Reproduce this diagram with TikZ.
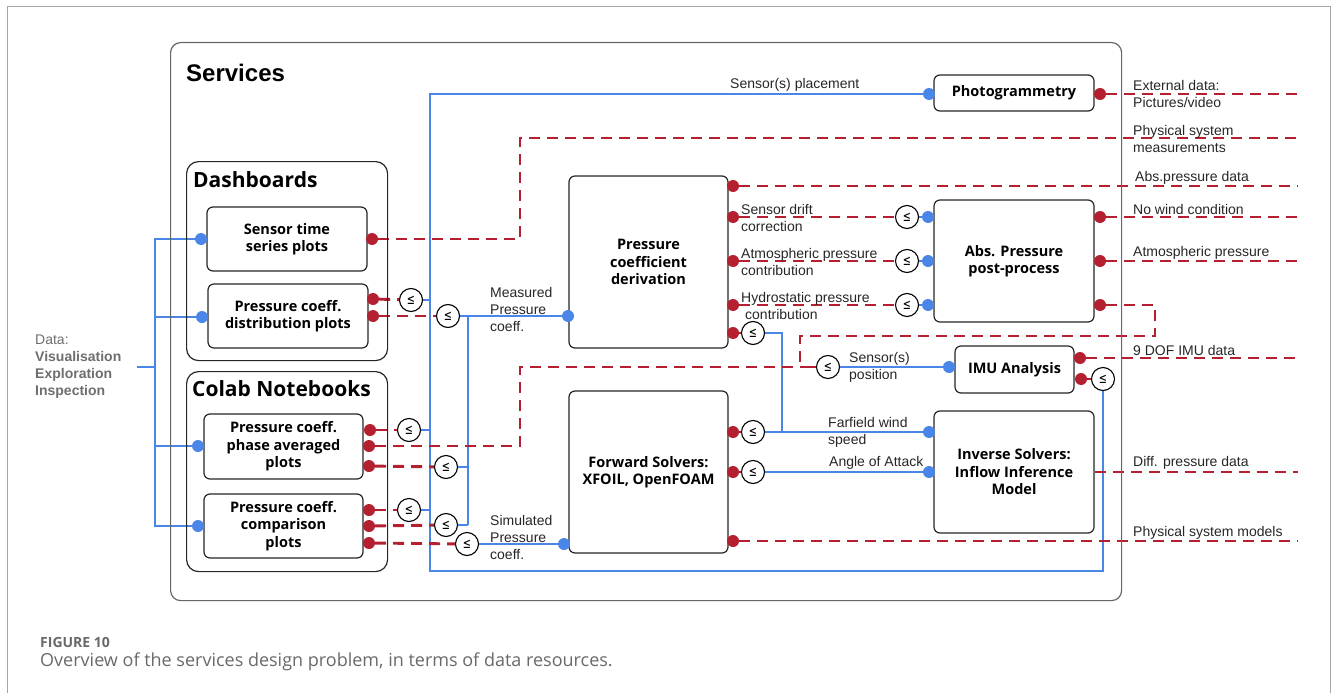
\documentclass[tikz,border=0pt]{standalone}
\usepackage{fontspec}
\setmainfont{Liberation Sans}
\newfontfamily\osans{Open Sans}
\newfontfamily\dejavu{DejaVu Sans}
\usetikzlibrary{backgrounds}
\definecolor{myblue}{RGB}{74,134,232}
\definecolor{myred}{RGB}{180,32,48}
\definecolor{capgray}{RGB}{105,105,105}
\definecolor{datagray}{RGB}{110,110,110}
\newcommand\bxfont{\osans\bfseries\fontsize{14.5}{17.5}\selectfont}
\newcommand\grpfont{\osans\bfseries\fontsize{21}{24}\selectfont}
\newcommand\lbfont{\fontsize{14}{17}\selectfont}

\begin{document}
\begin{tikzpicture}[x=1pt,y=-1pt,
  box/.style={draw=black!85, line width=1.2pt, rounded corners=6pt, fill=white,
    font=\bxfont, align=center, inner sep=2pt},
  grp/.style={draw=black!85, line width=1.2pt, rounded corners=12pt,
    anchor=north west, inner sep=0pt},
  gttl/.style={font=\grpfont, anchor=west, inner sep=0pt},
  bline/.style={draw=myblue, line width=2.7pt},
  rline/.style={draw=myred, line width=2.9pt, dash pattern=on 11pt off 7pt},
  rsolid/.style={draw=myred, line width=2.9pt},
  bdot/.style={circle, fill=myblue, inner sep=0pt, minimum size=12pt},
  rdot/.style={circle, fill=myred, inner sep=0pt, minimum size=12pt},
  leq/.style={circle, draw=black, line width=1.1pt, fill=white, inner sep=0pt,
    minimum size=23pt, font=\dejavu\fontsize{13}{13}\selectfont},
  lbl/.style={font=\lbfont, text=black!85, inner sep=0pt, anchor=west, align=left},
]
\useasboundingbox (0,0) rectangle (1333,693);

% page frame
\draw[black!35, line width=1pt] (7,693) -- (7,7) -- (1330,7) -- (1330,693);

% ---------- containers ----------
\node[grp, draw=black!60, rounded corners=10pt, minimum width=951, minimum height=558] (svc) at (170,42) {};
\node[anchor=west, inner sep=0pt, font=\bfseries\fontsize{24}{24}\selectfont] (svcT) at (186,73) {Services};

\node[grp, minimum width=201, minimum height=199] (dash) at (186,161) {};
\node[gttl] (dashT) at (193,180) {Dashboards};
\node[grp, minimum width=201, minimum height=200] (colab) at (186,371) {};
\node[gttl] (colabT) at (192,389) {Colab Notebooks};

% ---------- service boxes ----------
\node[box, minimum width=160, minimum height=64] (sts) at (287,239) {Sensor time\\series plots};
\node[box, minimum width=160, minimum height=64] (pcd) at (288,316) {Pressure coeff.\\distribution plots};
\node[box, minimum width=159, minimum height=65] (pha) at (283.5,446.5) {Pressure coeff.\\phase averaged\\plots};
\node[box, minimum width=159, minimum height=64] (cmp) at (283.5,526) {Pressure coeff.\\comparison\\plots};
\node[box, minimum width=159, minimum height=172] (pcder) at (648.5,262) {Pressure\\coefficient\\derivation};
\node[box, minimum width=159, minimum height=162] (fwd) at (648.5,472) {Forward Solvers:\\XFOIL, OpenFOAM};
\node[box, minimum width=160, minimum height=36] (photo) at (1014,93) {Photogrammetry};
\node[box, minimum width=160, minimum height=122] (abs) at (1014,261) {Abs. Pressure\\post-process};
\node[box, minimum width=119, minimum height=47] (imu) at (1014.5,369.5) {IMU Analysis};
\node[box, minimum width=160, minimum height=122] (inv) at (1014,472) {Inverse Solvers:\\Inflow Inference\\Model};

% ---------- ports ----------
\foreach \n/\x/\y in {sts-i/201/239, pcd-i/202/317, pha-i/198/446, cmp-i/198/526,
  pcder-i/568/316, fwd-i/564/544, photo-i/929/94, abs-i1/928/217, abs-i2/928/261,
  abs-i3/928/305, imu-i/949/367, inv-i1/929/432, inv-i2/929/472}
  \node[bdot] (\n) at (\x,\y) {};
\foreach \n/\x/\y in {sts-o/372/239, pcd-o1/373/299, pcd-o2/373/316, pha-o1/370/430,
  pha-o2/369/446, pha-o3/369/466, cmp-o1/369/510, cmp-o2/369/526, cmp-o3/369/543,
  pcder-o1/733/186, pcder-o2/733/217, pcder-o3/733/261, pcder-o4/733/305, pcder-o5/733/333,
  fwd-o1/733/432, fwd-o2/733/472, fwd-o3/733/541, photo-o/1100/94,
  abs-o1/1100/217, abs-o2/1100/261, abs-o3/1100/305, imu-o1/1080/358, imu-o2/1081/379}
  \node[rdot] (\n) at (\x,\y) {};

% ---------- comparison gates ----------
\foreach \n/\x/\y in {le1/411/300, le2/448/316, le3/409/430, le4/446/467, le5/409/510,
  le6/446/525, le7/467/544, lesd/907/217, leat/907/261, lehy/907/305, leff0/753/333,
  leff/753/432, leaoa/753/472, lepos/828/367, leimu/1103/379}
  \node[leq] (\n) at (\x,\y) {\scalebox{0.75}[1.1]{≤}};

% ---------- routing points ----------
\coordinate (loopT) at (430,94);
\coordinate (loopB) at (430,571);
\coordinate (loopR) at (1103,571);
\coordinate (bus2T) at (468,316);
\coordinate (bus2B) at (468,525);
\coordinate (busT) at (155,239);
\coordinate (busB) at (155,526);
\coordinate (dstub) at (137,367);
\coordinate (ffc) at (782,333);
\coordinate (ffd) at (782,432);
\coordinate (k1) at (520,239);
\coordinate (k2) at (520,138);
\coordinate (k3) at (1298,138);
\coordinate (j1) at (520,446);
\coordinate (j2) at (520,367);
\coordinate (j3) at (800,367);
\coordinate (j4) at (800,336);
\coordinate (j5) at (1155,336);
\coordinate (j6) at (1155,305);
\coordinate (e-photo) at (1298,94);
\coordinate (e-abs) at (1298,186);
\coordinate (e-nw) at (1298,217);
\coordinate (e-atm) at (1298,261);
\coordinate (e-imu) at (1298,358);
\coordinate (e-diff) at (1298,472);
\coordinate (e-phys) at (1298,541);

\begin{scope}[on background layer]
% data consumers (blue)
\draw[bline] (sts-i) -- (busT) -- (busB) -- (cmp-i);
\draw[bline] (pcd-i) -- (pcd-i -| busT);
\draw[bline] (pha-i) -- (pha-i -| busT);
\draw[bline] (dstub) -- (dstub -| busT);
\draw[bline] (photo-i) -- (loopT) -- (loopB) -- (loopR) -- (leimu);
\draw[bline] (le1) -- (le1 -| loopT);
\draw[bline] (le3) -- (le3 -| loopT);
\draw[bline] (le5) -- (le5 -| loopT);
\draw[bline] (le2) -- (pcder-i);
\draw[bline] (bus2T) -- (bus2B);
\draw[bline] (le4) -- (le4 -| bus2T);
\draw[bline] (le6) -- (bus2B);
\draw[bline] (le7) -- (fwd-i);
\draw[bline] (lesd) -- (abs-i1);
\draw[bline] (leat) -- (abs-i2);
\draw[bline] (lehy) -- (abs-i3);
\draw[bline] (leff0) -- (ffc) -- (ffd);
\draw[bline] (leff) -- (inv-i1);
\draw[bline] (leaoa) -- (inv-i2);
\draw[bline] (lepos) -- (imu-i);

% data resources (red)
\draw[rline] (sts-o) -- (k1) -- (k2) -- (k3);
\draw[rline] (pcd-o1) -- (le1);
\draw[rline] (pcd-o2) -- (le2);
\draw[rline] (pha-o1) -- (le3);
\draw[rline] (pha-o3) -- (le4);
\draw[rline] (cmp-o1) -- (le5);
\draw[rline] (cmp-o2) -- (le6);
\draw[rline] (cmp-o3) -- (le7);
\draw[rline] (pha-o2) -- (j1) -- (j2) -- (j3);
\draw[rline] (abs-o3) -- (j6) -- (j5) -- (j4) -- (j3);
\draw[rsolid] (j3) -- (lepos);
\draw[rline] (pcder-o1) -- (e-abs);
\draw[rline] (pcder-o2) -- (lesd);
\draw[rline] (pcder-o3) -- (leat);
\draw[rline] (pcder-o4) -- (lehy);
\draw[rsolid] (pcder-o5) -- (leff0);
\draw[rline] (photo-o) -- (e-photo);
\draw[rline] (abs-o1) -- (e-nw);
\draw[rline] (abs-o2) -- (e-atm);
\draw[rline] (imu-o1) -- (e-imu);
\draw[rsolid] (imu-o2) -- (leimu);
\draw[rsolid] (fwd-o1) -- (leff);
\draw[rsolid] (fwd-o2) -- (leaoa);
\draw[rline] (fwd-o3) -- (e-phys);
\draw[rline] (inv.east) -- (e-diff);
\end{scope}

% ---------- connector labels ----------
\node[lbl] (l-place) at (730,85) {Sensor(s) placement};
\node[lbl] (l-meas) at (490,309) {Measured\\Pressure\\coeff.};
\node[lbl] (l-sim) at (490,537) {Simulated\\Pressure\\coeff.};
\node[lbl] (l-drift) at (741,217.5) {Sensor drift\\correction};
\node[lbl] (l-atmc) at (741,261.5) {Atmospheric pressure\\contribution};
\node[lbl] (l-hyd) at (741,305.5) {Hydrostatic pressure\\\hspace*{4pt}contribution};
\node[lbl] (l-ff) at (828,432) {Farfield wind\\speed};
\node[lbl] (l-aoa) at (829,463) {Angle of Attack};
\node[lbl] (l-pos) at (849,367) {Sensor(s)\\position};
\node[lbl] (l-ext) at (1133,94) {External data:\\Pictures/video};
\node[lbl] (l-phm) at (1133,138.5) {Physical system\\measurements};
\node[lbl] (l-absd) at (1135,178) {Abs.pressure data};
\node[lbl] (l-nw) at (1133,209) {No wind condition};
\node[lbl] (l-atm) at (1133,253) {Atmospheric pressure};
\node[lbl] (l-imu) at (1133,350) {9 DOF IMU data};
\node[lbl] (l-diff) at (1133,463) {Diff. pressure data};
\node[lbl] (l-phys) at (1133,533) {Physical system models};

% data consumers
\node[lbl, text=datagray] (l-data) at (35,367) {Data:\\\textbf{Visualisation}\\\textbf{Exploration}\\\textbf{Inspection}};

% ---------- caption ----------
\node[anchor=west, inner sep=0pt, text=capgray, font=\osans\bfseries\fontsize{14}{14}\selectfont] (figno) at (40,642) {FIGURE 10};
\node[anchor=west, inner sep=0pt, text=capgray, font=\osans\fontsize{18}{18}\selectfont] (cap) at (40,662) {Overview of the services design problem, in terms of data resources.};
\end{tikzpicture}
\end{document}
